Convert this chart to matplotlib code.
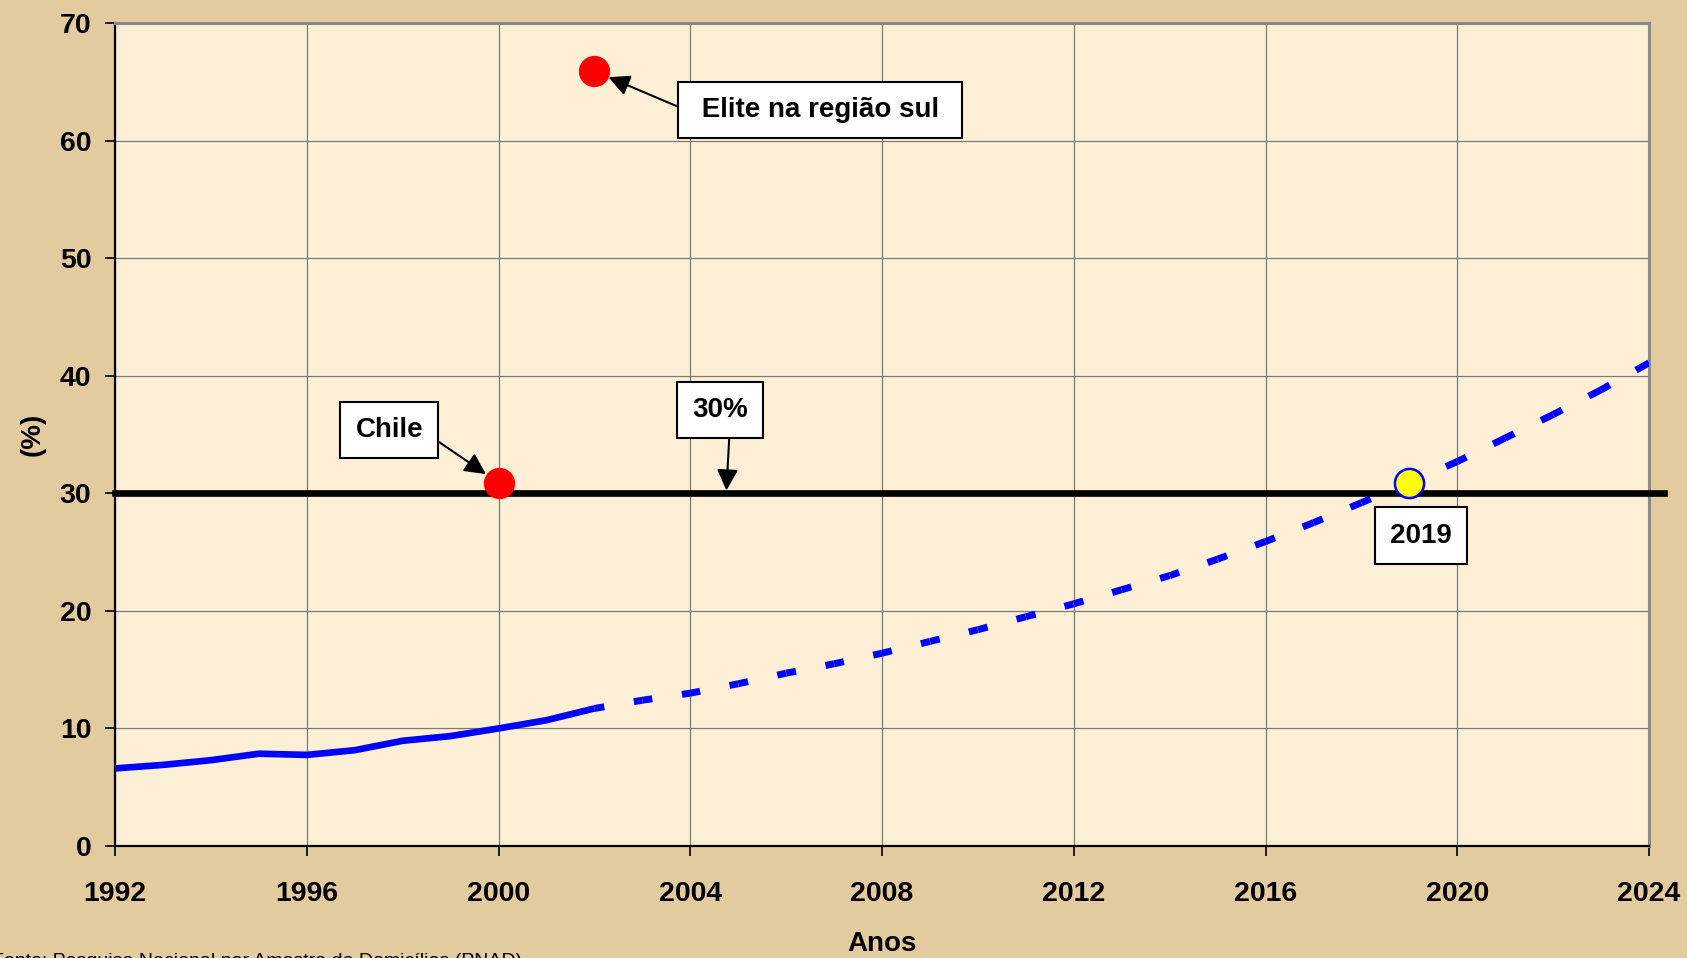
import matplotlib
matplotlib.use("Agg")
import matplotlib.pyplot as plt

# dados
anos_obs = [1992, 1993, 1994, 1995, 1996, 1997, 1998, 1999, 2000, 2001, 2002]
taxa_obs = [6.6, 6.9, 7.3, 7.85, 7.75, 8.15, 8.95, 9.35, 10.0, 10.7, 11.7]

anos_proj = list(range(2002, 2025))
taxa_proj = [11.7, 12.4, 13.0, 13.8, 14.7, 15.5, 16.4, 17.4, 18.4, 19.5, 20.6,
             21.8, 23.0, 24.4, 25.9, 27.5, 29.2, 30.9, 32.7, 34.7, 36.7, 38.8, 41.1]

meta = 30
chile = (2000, 30.9)
elite = (2002, 65.9)
ano_meta = (2019, 30.9)

xticks = list(range(1992, 2025, 4))
yticks = list(range(0, 71, 10))

plt.rcParams['font.family'] = ['Liberation Sans', 'DejaVu Sans']
plt.rcParams['lines.scale_dashes'] = False

fig = plt.figure(figsize=(16.87, 9.58), dpi=100, facecolor='#e2cb9f')
ax = fig.add_axes([0.0682, 0.1169, 0.9093, 0.8591], facecolor='#fcefd6')

ax.set_xlim(1992, 2024)
ax.set_ylim(0, 70)
ax.set_xticks(xticks)
ax.set_yticks(yticks)
ax.grid(True, color='#7a7a7a', lw=0.9)
ax.set_axisbelow(True)

for s in ['left', 'bottom']:
    ax.spines[s].set_color('black')
    ax.spines[s].set_linewidth(1.6)
for s in ['top', 'right']:
    ax.spines[s].set_color('#8a8a8a')
    ax.spines[s].set_linewidth(2.2)

ax.tick_params(axis='both', labelsize=20.5, length=7, width=1.2, direction='out')
ax.tick_params(axis='y', pad=10)
ax.tick_params(axis='x', pad=18.5)
for lab in ax.get_xticklabels() + ax.get_yticklabels():
    lab.set_fontweight('bold')

# linha de 30%
ax.axhline(meta, xmin=0, xmax=1.01, color='black', lw=4.8, clip_on=False, zorder=3)

# serie observada
ax.plot(anos_obs, taxa_obs, color='#0000ff', lw=4.8, solid_capstyle='butt', zorder=4)

# projecao tracejada, um traco centrado em cada ano
for i in range(len(anos_proj) - 1):
    ax.plot(anos_proj[i:i + 2], taxa_proj[i:i + 2], color='#0000ff', lw=5,
            linestyle=(7.2, (14.4, 21.6)), dash_capstyle='butt', zorder=4)

ax.plot(*chile, 'o', color='#ff0000', ms=21.5, mec='#ff0000', zorder=6)
ax.plot(*elite, 'o', color='#ff0000', ms=21.5, mec='#ff0000', zorder=6)
ax.plot(*ano_meta, 'o', color='#ffff00', ms=21, mec='#0000ff', mew=1.8, zorder=6)

caixa = dict(boxstyle='square,pad=0.55', fc='white', ec='black', lw=1.5)
seta = dict(arrowstyle='-|>', color='black', lw=1.5, mutation_scale=32)

ax.annotate(' Elite na região sul ', xy=elite, xytext=(2006.71, 62.6),
            ha='center', va='center', fontsize=20, fontweight='bold', bbox=caixa,
            arrowprops=dict(seta, relpos=(0, 0.37), shrinkA=0, shrinkB=11), zorder=7)
ax.annotate('Chile', xy=chile, xytext=(1997.72, 35.4),
            ha='center', va='center', fontsize=20, fontweight='bold', bbox=caixa,
            arrowprops=dict(seta, relpos=(1, 0.45), shrinkA=0, shrinkB=11), zorder=7)
ax.annotate('30%', xy=(2004.75, meta), xytext=(2004.62, 37.1),
            ha='center', va='center', fontsize=20, fontweight='bold', bbox=caixa,
            arrowprops=dict(seta, relpos=(0.68, 0), shrinkA=0, shrinkB=2), zorder=7)
ax.text(2019.24, 26.4, '2019', ha='center', va='center', fontsize=20,
        fontweight='bold', bbox=caixa, zorder=7)

ax.set_xlabel('Anos', fontsize=20, fontweight='bold')
ax.xaxis.set_label_coords(0.5, -0.103)
ax.set_ylabel('(%)', fontsize=20, fontweight='bold')
ax.yaxis.set_label_coords(-0.045, 0.5)

fig.text(-0.0047, -0.0084, 'Fonte: Pesquisa Nacional por Amostra de Domicílios (PNAD)',
         fontsize=14, ha='left', va='baseline')

fig.savefig('out.png', dpi=100, facecolor=fig.get_facecolor())
